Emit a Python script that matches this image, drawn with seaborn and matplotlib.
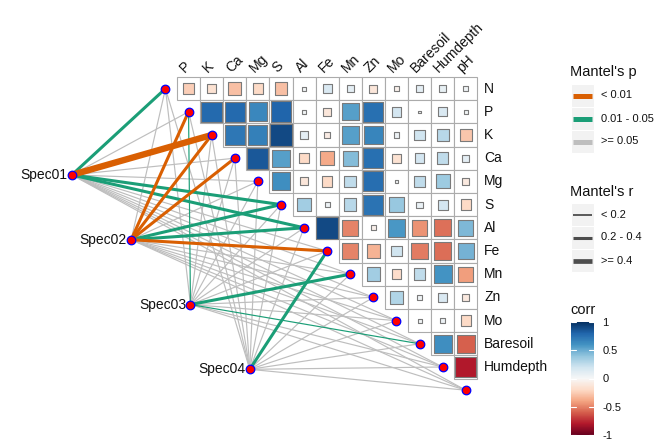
import numpy as np
import pandas as pd
import matplotlib
matplotlib.use("Agg")
import matplotlib.pyplot as plt
from matplotlib.patches import Rectangle
import seaborn as sns

env_vars = ["N", "P", "K", "Ca", "Mg", "S", "Al", "Fe", "Mn", "Zn", "Mo",
            "Baresoil", "Humdepth", "pH"]
row_labels = env_vars[:-1]
col_labels = env_vars[1:]

# upper triangle of the correlation matrix, one row per variable N..Humdepth
corr_upper = [
    [-0.25, -0.15, -0.30, -0.20, -0.30, 0.03, 0.15, 0.10, -0.12, -0.05, 0.10, 0.08, 0.04],
    [0.78, 0.78, 0.65, 0.80, 0.03, -0.12, 0.55, 0.75, 0.18, 0.01, 0.15, 0.03],
    [0.72, 0.68, 0.90, 0.10, -0.08, 0.55, 0.66, 0.05, 0.20, 0.28, -0.28],
    [0.85, 0.55, -0.20, -0.38, 0.43, 0.75, -0.15, 0.18, 0.25, 0.10],
    [0.62, -0.12, -0.20, 0.25, 0.76, 0.02, 0.25, 0.36, -0.10],
    [0.35, 0.05, 0.28, 0.74, 0.38, 0.07, 0.18, -0.20],
    [0.90, -0.50, -0.05, 0.58, -0.45, -0.55, 0.45],
    [-0.50, -0.35, 0.20, -0.52, -0.56, 0.47],
    [0.35, -0.18, 0.25, 0.60, -0.42],
    [0.30, 0.04, 0.15, -0.10],
    [0.03, 0.05, -0.20],
    [0.62, -0.60],
    [-0.80],
]

species = ["Spec01", "Spec02", "Spec03", "Spec04"]
# mantel r / p of each species group against N..pH
mantel_r = [
    [0.28, 0.12, 0.46, 0.10, 0.08, 0.27, 0.30, 0.05, 0.06, 0.04, 0.02, 0.05, 0.03, 0.10],
    [0.10, 0.32, 0.35, 0.30, 0.12, 0.24, 0.26, 0.33, 0.08, 0.05, 0.06, 0.07, 0.04, 0.09],
    [0.05, 0.18, 0.08, 0.06, 0.07, 0.04, 0.10, 0.09, 0.25, 0.03, 0.05, 0.17, 0.08, 0.06],
    [0.03, 0.05, 0.04, 0.06, 0.05, 0.07, 0.08, 0.22, 0.06, 0.04, 0.03, 0.09, 0.07, 0.05],
]
mantel_p = [
    [0.020, 0.20, 0.003, 0.30, 0.40, 0.030, 0.020, 0.60, 0.50, 0.70, 0.80, 0.60, 0.70, 0.20],
    [0.200, 0.004, 0.002, 0.006, 0.10, 0.020, 0.020, 0.005, 0.30, 0.50, 0.40, 0.30, 0.60, 0.20],
    [0.500, 0.030, 0.30, 0.40, 0.30, 0.60, 0.15, 0.20, 0.020, 0.70, 0.50, 0.040, 0.20, 0.40],
    [0.700, 0.50, 0.60, 0.40, 0.50, 0.30, 0.25, 0.040, 0.40, 0.60, 0.70, 0.30, 0.40, 0.50],
]

p_labels = ["< 0.01", "0.01 - 0.05", ">= 0.05"]
r_labels = ["< 0.2", "0.2 - 0.4", ">= 0.4"]
p_colors = ["#D95F02", "#1B9E77", "#BEBEBE"]
r_widths = [0.85, 2.2, 4.6]

W, H = 672, 441
X0, Y0, CW, CH = 177, 77, 23.1, 23.2

sns.set_theme(style="white")
plt.rcParams["font.family"] = ["Liberation Sans", "DejaVu Sans"]
plt.rcParams["axes.unicode_minus"] = False
plt.rcParams["text.color"] = "#111111"

fig = plt.figure(figsize=(W / 100, H / 100), dpi=100)
ax = fig.add_axes([0, 0, 1, 1])

# grid cells
cells = []
for i, row in enumerate(corr_upper):
    for k, r in enumerate(row):
        j = i + k
        ax.add_patch(Rectangle((j, i), 1, 1, facecolor="white",
                               edgecolor="#ABABAB", linewidth=0.8, zorder=1))
        cells.append({"x": j + 0.5, "y": i + 0.5, "corr": r, "size": abs(r)})
cell_df = pd.DataFrame(cells)

full_side = CW * 0.72
sns.scatterplot(data=cell_df, x="x", y="y", hue="corr", palette="RdBu",
                hue_norm=(-1, 1), size="size", sizes=(0, full_side ** 2),
                size_norm=(0, 1), marker="s", edgecolor="#7A7A7A",
                linewidth=0.8, legend=False, ax=ax, zorder=2)

# nodes
env_df = pd.DataFrame({"name": env_vars,
                       "x": np.arange(len(env_vars)) - 0.5,
                       "y": np.arange(len(env_vars)) + 0.5})
spec_df = pd.DataFrame({"name": species,
                        "x": np.linspace(-4.55, 3.15, len(species)),
                        "y": np.linspace(4.22, 12.6, len(species))})

links = []
for s in range(len(species)):
    for k in range(len(env_vars)):
        r, p = mantel_r[s][k], mantel_p[s][k]
        pd_cls = 0 if p < 0.01 else (1 if p < 0.05 else 2)
        rd_cls = 0 if r < 0.2 else (1 if r < 0.4 else 2)
        links.append({"s": s, "k": k, "pd": pd_cls, "rd": rd_cls})
link_df = pd.DataFrame(links).sort_values("pd", ascending=False, kind="stable")

for _, l in link_df.iterrows():
    xs = [spec_df.x[l.s], env_df.x[l.k]]
    ys = [spec_df.y[l.s], env_df.y[l.k]]
    ax.plot(xs, ys, color=p_colors[l.pd], linewidth=r_widths[l.rd],
            solid_capstyle="butt", zorder=3 if l.pd == 2 else 4)

for d in (env_df, spec_df):
    sns.scatterplot(data=d, x="x", y="y", color="red", edgecolor="blue",
                    s=38, linewidth=0.9, legend=False, ax=ax, zorder=6)

# labels
for i, lab in enumerate(row_labels):
    ax.annotate(lab, (len(col_labels), i + 0.5), xytext=(5, 0),
                textcoords="offset points", ha="left", va="center", fontsize=10)
for j, lab in enumerate(col_labels):
    ax.annotate(lab, (j + 0.5, 0), xytext=(-1, 1.5), textcoords="offset points",
                rotation=45, rotation_mode="anchor", ha="left", va="bottom",
                fontsize=10)
for _, sp in spec_df.iterrows():
    ax.annotate(sp["name"], (sp.x, sp.y), xytext=(-3, 0),
                textcoords="offset points", ha="right", va="center", fontsize=10)

ax.set_xlim(-X0 / CW, (W - X0) / CW)
ax.set_ylim((H - Y0) / CH, -Y0 / CH)
ax.axis("off")

# legends, in pixel coordinates
lax = fig.add_axes([0, 0, 1, 1])
lax.set_xlim(0, W)
lax.set_ylim(H, 0)
lax.axis("off")
lax.patch.set_alpha(0)


def legend_block(title, ty, key_top, labels, colors, widths):
    lax.text(570, ty, title, fontsize=10.5, va="center", ha="left")
    for n, lab in enumerate(labels):
        top = key_top + n * 23
        lax.add_patch(Rectangle((571, top), 23, 23, facecolor="#F2F2F2",
                                edgecolor="white", linewidth=0.8))
        lax.plot([573, 592], [top + 11.5, top + 11.5], color=colors[n],
                 linewidth=widths[n], solid_capstyle="butt")
        lax.text(601, top + 11.5, lab, fontsize=8, va="center", ha="left")


legend_block("Mantel's p", 72, 84, p_labels, p_colors, [3.6, 3.6, 3.6])
legend_block("Mantel's r", 192, 203, r_labels, ["#4D4D4D"] * 3, [1.3, 2.2, 3.4])
lax.text(570, 310, "corr", fontsize=10.5, va="center", ha="left")

cax = fig.add_axes([571 / W, 1 - 435 / H, 23 / W, 113 / H])
sm = plt.cm.ScalarMappable(cmap="RdBu", norm=plt.Normalize(-1, 1))
cb = fig.colorbar(sm, cax=cax)
cb.outline.set_visible(False)
ticks = [-1, -0.5, 0, 0.5, 1]
cb.set_ticks(ticks)
cb.set_ticklabels(["-1", "-0.5", "0", "0.5", "1"])
cax.tick_params(length=0, labelsize=8, pad=6, labelcolor="#111111")
for t in ticks:
    cax.plot([0, 0.2], [t, t], color="white", linewidth=0.8, transform=cax.get_yaxis_transform())
    cax.plot([0.8, 1], [t, t], color="white", linewidth=0.8, transform=cax.get_yaxis_transform())

fig.savefig("out.png", dpi=100)
